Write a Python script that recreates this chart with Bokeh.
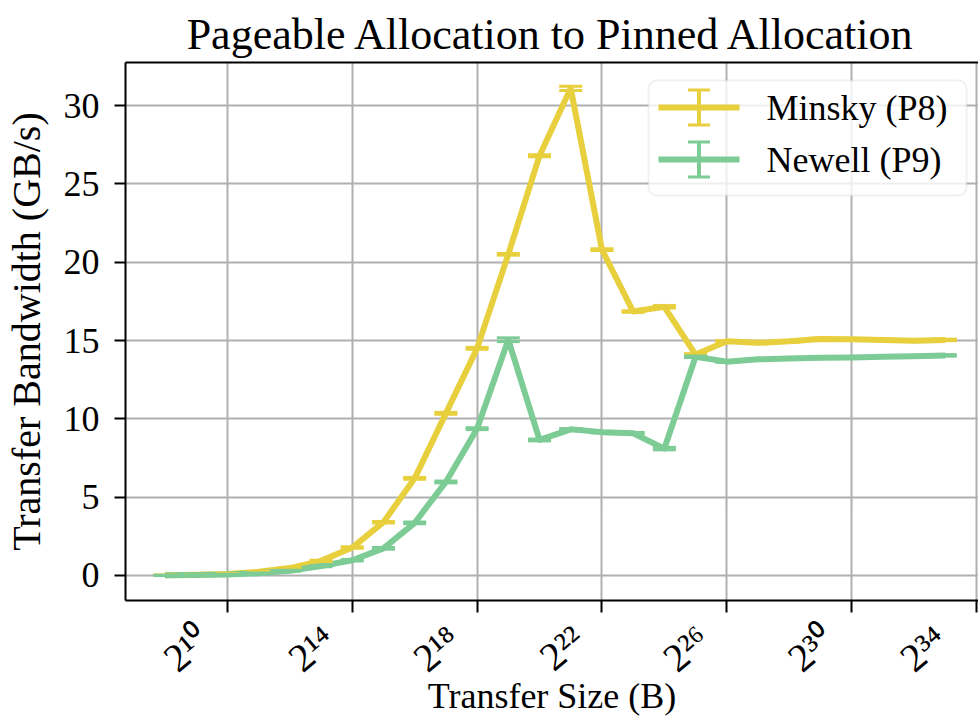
from bokeh.plotting import figure
from bokeh.models import (Range1d, FixedTicker, CustomJSTickFormatter, Whisker, TeeHead,
                          ColumnDataSource, LogAxis, BoxAnnotation, Arrow, Label)
from bokeh.embed import file_html
from bokeh.resources import INLINE

# ---------------- data ----------------
size_exponents = [8, 9, 10, 11, 12, 13, 14, 15, 16, 17, 18, 19, 20,
                  21, 22, 23, 24, 25, 26, 27, 28, 29, 30, 31, 32, 33]
minsky_bw = [0.02, 0.05, 0.10, 0.23, 0.47, 0.93, 1.78, 3.40, 6.20, 10.35, 14.50, 20.50, 26.80,
             31.10, 20.80, 16.85, 17.15, 14.10, 14.95, 14.85, 14.95, 15.10, 15.08, 15.04, 14.98, 15.04]
minsky_err = [0.01, 0.01, 0.02, 0.02, 0.03, 0.04, 0.05, 0.05, 0.06, 0.06, 0.06, 0.05, 0.06,
              0.13, 0.06, 0.05, 0.08, 0.06, 0.05, 0.05, 0.05, 0.05, 0.05, 0.05, 0.05, 0.05]
newell_bw = [0.01, 0.03, 0.06, 0.14, 0.30, 0.60, 0.97, 1.73, 3.36, 5.97, 9.37, 15.05, 8.65,
             9.33, 9.15, 9.08, 8.10, 13.96, 13.65, 13.80, 13.85, 13.90, 13.92, 13.96, 14.00, 14.05]
newell_err = [0.01, 0.01, 0.02, 0.02, 0.03, 0.04, 0.05, 0.05, 0.06, 0.06, 0.06, 0.12, 0.06,
              0.05, 0.05, 0.05, 0.08, 0.05, 0.05, 0.05, 0.05, 0.05, 0.05, 0.05, 0.05, 0.05]
series_names = ["Minsky (P8)", "Newell (P9)"]
series_colors = ["#e8cf3d", "#7dcb95"]
x_tick_exponents = [10, 14, 18, 22, 26, 30, 34]
y_ticks = [0, 5, 10, 15, 20, 25, 30]

FONT = "Liberation Serif"

sizes = [2 ** e for e in size_exponents]

p = figure(width=978, height=718, x_axis_type="log",
           x_range=Range1d(2 ** 6.736, 2 ** 34.064), y_range=Range1d(-1.6, 32.75),
           output_backend="svg", toolbar_location=None,
           title="Pageable Allocation to Pinned Allocation",
           min_border_left=124, min_border_right=0, min_border_top=62, min_border_bottom=117)

p.background_fill_color = "white"
p.border_fill_color = "white"
p.outline_line_color = None

p.title.text_font = FONT
p.title.text_font_size = "44px"
p.title.text_font_style = "normal"
p.title.align = "center"
p.title.text_color = "black"
p.title.standoff = 8

# axes
p.xaxis.ticker = FixedTicker(ticks=[2 ** e for e in x_tick_exponents])
# tick label "2" + superscript exponent; trailing spaces keep the rotated
# label's visible end just left of its tick, as in the reference
p.xaxis.formatter = CustomJSTickFormatter(code="""
const sup = {"0":"\u2070","1":"\u00b9","2":"\u00b2","3":"\u00b3","4":"\u2074",
             "5":"\u2075","6":"\u2076","7":"\u2077","8":"\u2078","9":"\u2079"};
const e = Math.round(Math.log2(tick));
return "2" + String(e).split("").map(c => sup[c]).join("") + "\u2002\u2005";
""")
p.xaxis.major_label_orientation = 0.70
p.yaxis.ticker = FixedTicker(ticks=y_ticks)

for ax in [p.xaxis[0], p.yaxis[0]]:
    ax.axis_line_width = 2
    ax.axis_line_color = "black"
    ax.major_tick_line_width = 2
    ax.major_tick_line_color = "black"
    ax.major_tick_in = 0
    ax.minor_tick_line_color = None
    ax.major_label_text_font = FONT
    ax.major_label_text_color = "black"
    ax.axis_label_text_font = FONT
    ax.axis_label_text_font_style = "normal"
    ax.axis_label_text_color = "black"

p.xaxis.major_tick_out = 12
p.yaxis.major_tick_out = 11
p.xaxis.major_label_text_font_size = "40px"
p.xaxis.major_label_standoff = 2
p.yaxis.major_label_text_font_size = "36px"
p.yaxis.major_label_standoff = 15

p.xaxis.axis_label = "Transfer Size (B)"
p.yaxis.axis_label = "Transfer Bandwidth (GB/s)"
p.xaxis.axis_label_text_font_size = "36px"
p.yaxis.axis_label_text_font_size = "40px"
p.xaxis.axis_label_standoff = -25
p.yaxis.axis_label_standoff = 12

# top spine only (the reference's right spine lies beyond the picture)
top_axis = LogAxis(ticker=FixedTicker(ticks=[]), axis_line_width=2, axis_line_color="black",
                   major_tick_out=0, major_tick_in=0, minor_tick_out=0, minor_tick_in=0,
                   major_label_standoff=0, major_label_text_font_size="0px",
                   axis_label_standoff=0)
p.add_layout(top_axis, "above")

p.xgrid.grid_line_color = "#b0b0b0"
p.ygrid.grid_line_color = "#b0b0b0"
p.xgrid.grid_line_width = 2
p.ygrid.grid_line_width = 2

# series
for vals, errs, color in [(minsky_bw, minsky_err, series_colors[0]),
                          (newell_bw, newell_err, series_colors[1])]:
    src = ColumnDataSource(dict(x=sizes, y=vals,
                                upper=[v + e for v, e in zip(vals, errs)],
                                lower=[v - e for v, e in zip(vals, errs)]))
    p.line("x", "y", source=src, line_width=6, line_color=color, line_join="round")
    w = Whisker(base="x", upper="upper", lower="lower", source=src, dimension="height",
                line_color=color, line_width=3, level="glyph",
                upper_head=TeeHead(size=23, line_color=color, line_width=3),
                lower_head=TeeHead(size=23, line_color=color, line_width=3))
    p.add_layout(w)

# legend (screen units relative to the frame, y upward from frame bottom)
p.add_layout(BoxAnnotation(left=523, right=841, top=520, bottom=405,
                           left_units="screen", right_units="screen",
                           top_units="screen", bottom_units="screen",
                           fill_color="white", fill_alpha=0.8,
                           line_color="#cccccc", line_width=2, border_radius=8))
row_y = [493, 441]
for name, color, ry in zip(series_names, series_colors, row_y):
    p.add_layout(Arrow(start=None, end=None, x_start=533, y_start=ry, x_end=614, y_end=ry,
                       start_units="screen", end_units="screen",
                       line_color=color, line_width=6))
    p.add_layout(Arrow(start=None, end=None, x_start=573.5, y_start=ry - 18.5,
                       x_end=573.5, y_end=ry + 18.5,
                       start_units="screen", end_units="screen",
                       line_color=color, line_width=4))
    for dy in (-17.5, 17.5):
        p.add_layout(Arrow(start=None, end=None, x_start=562.5, y_start=ry + dy,
                           x_end=584.5, y_end=ry + dy,
                           start_units="screen", end_units="screen",
                           line_color=color, line_width=3))
    p.add_layout(Label(x=641, y=ry, x_units="screen", y_units="screen", text=name,
                       text_font=FONT, text_font_size="36px", text_color="black",
                       text_baseline="middle", text_align="left"))

open("out.html", "w", encoding="utf-8").write(file_html(p, INLINE))
